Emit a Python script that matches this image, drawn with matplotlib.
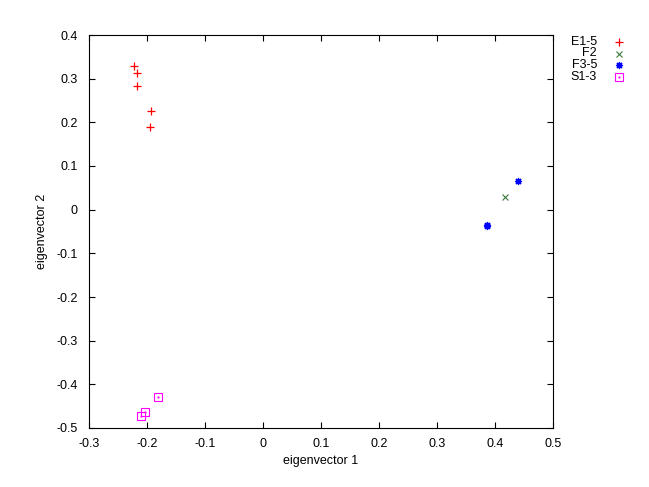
import matplotlib
matplotlib.use("Agg")
import matplotlib.pyplot as plt
from matplotlib.lines import Line2D

plt.rcParams['font.family'] = ['Liberation Sans', 'DejaVu Sans']

# Data
e_x = [-0.222, -0.217, -0.218, -0.193, -0.194]
e_y = [0.329, 0.312, 0.283, 0.225, 0.190]
f2_x = [0.418]
f2_y = [0.028]
f3_x = [0.439, 0.387, 0.386]
f3_y = [0.066, -0.037, -0.035]
s_x = [-0.181, -0.203, -0.210]
s_y = [-0.428, -0.463, -0.473]

labels = ["E1-5", "F2", "F3-5", "S1-3"]
xticks = [-0.3, -0.2, -0.1, 0, 0.1, 0.2, 0.3, 0.4, 0.5]
yticks = [-0.5, -0.4, -0.3, -0.2, -0.1, 0, 0.1, 0.2, 0.3, 0.4]

c_e, c_f2, c_f3, c_s = 'red', '#3a7a3a', 'blue', 'magenta'

W, H = 649, 487
fig = plt.figure(figsize=(W / 100, H / 100), dpi=100)
l, r, t, b = 89, 553, 35, 428
ax = fig.add_axes([l / W, 1 - b / H, (r - l) / W, (b - t) / H])

ms = 6.0
mk_e = dict(marker='+', color=c_e, ms=ms, mew=0.9)
mk_f2 = dict(marker='x', color=c_f2, ms=ms * 0.8, mew=0.8)
mk_f3 = dict(marker=(8, 2, 0), color=c_f3, ms=ms * 0.85, mew=0.9)
mk_s = dict(marker='s', mfc='none', color=c_s, ms=ms * 0.85, mew=0.8)
mk_dot = dict(marker='.', color=c_s, ms=1.2)

ax.plot(e_x, e_y, ls='none', **mk_e)
ax.plot(f2_x, f2_y, ls='none', **mk_f2)
ax.plot(f3_x, f3_y, ls='none', **mk_f3)
ax.plot(s_x, s_y, ls='none', **mk_s)
ax.plot(s_x, s_y, ls='none', **mk_dot)

ax.set_xlim(-0.3, 0.5)
ax.set_ylim(-0.5, 0.4)
ax.set_xticks(xticks)
ax.set_yticks(yticks)
ax.set_xticklabels([f"{v:g}" for v in xticks])
ax.set_yticklabels([f"{v:g}" for v in yticks])
ax.tick_params(direction='in', length=4.5, width=0.8, labelsize=9,
               top=True, right=True, pad=7)
ax.tick_params(axis='y', pad=8)
for s in ax.spines.values():
    s.set_linewidth(0.8)
ax.set_xlabel("eigenvector 1", fontsize=9, labelpad=4)
ax.set_ylabel("eigenvector 2", fontsize=9, labelpad=6)

# Legend (manual, gnuplot style)
leg_y = [42, 53.5, 65, 76.5]
markers = [mk_e, mk_f2, mk_f3, mk_s]
for lab, yy, mk in zip(labels, leg_y, markers):
    fig.text(597 / W, 1 - yy / H, lab, ha='right', va='center', fontsize=9)
    fig.add_artist(Line2D([619 / W], [1 - yy / H], transform=fig.transFigure,
                          ls='none', **mk))
fig.add_artist(Line2D([619 / W], [1 - leg_y[3] / H], transform=fig.transFigure,
                      ls='none', **mk_dot))

fig.savefig("out.png", dpi=100)
